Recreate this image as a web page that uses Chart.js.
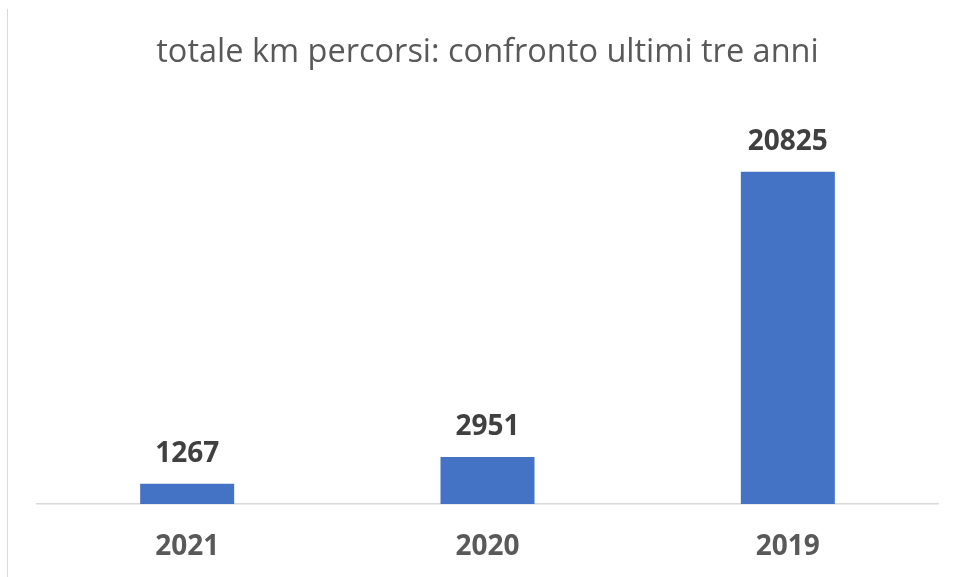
<!DOCTYPE html>
<html>
<head>
<meta charset="utf-8">
<script src="https://cdn.jsdelivr.net/npm/chart.js@4/dist/chart.umd.min.js"></script>
<style>
  html, body { margin: 0; padding: 0; background: #ffffff; }
  #wrap { position: relative; width: 955px; height: 577px; overflow: hidden; }
  #frame { position: absolute; left: 7px; top: 9px; width: 0; height: 580px; border-left: 1.5px solid #d9d9d9; }
  canvas { position: absolute; left: 0; top: 0; }
</style>
</head>
<body>
<div id="wrap">
  <div id="frame"></div>
  <canvas id="c" width="955" height="577"></canvas>
</div>
<script>
const titleText = "totale km percorsi: confronto ultimi tre anni";
const categories = ["2021", "2020", "2019"];
const kmValues = [1267, 2951, 20825];

const valueLabels = {
  id: 'valueLabels',
  afterDatasetsDraw(chart) {
    const ctx = chart.ctx;
    const meta = chart.getDatasetMeta(0);
    ctx.save();
    ctx.font = 'bold 28px "Open Sans"';
    ctx.fillStyle = '#404040';
    ctx.textAlign = 'center';
    ctx.textBaseline = 'middle';
    meta.data.forEach((bar, i) => {
      ctx.fillText(String(kmValues[i]), bar.x, bar.y - 30);
    });
    ctx.restore();
  }
};

new Chart(document.getElementById('c'), {
  type: 'bar',
  data: {
    labels: categories,
    datasets: [{
      data: kmValues,
      backgroundColor: '#4472c4',
      borderWidth: 0,
      barPercentage: 0.313,
      categoryPercentage: 1.0
    }]
  },
  options: {
    responsive: false,
    animation: false,
    devicePixelRatio: 1,
    layout: { padding: { left: 37, right: 17, top: 0, bottom: -13 } },
    plugins: {
      legend: { display: false },
      tooltip: { enabled: false },
      title: {
        display: true,
        text: titleText,
        color: '#595959',
        font: { family: '"Open Sans"', size: 32.5, weight: 'normal', lineHeight: 1.2 },
        padding: { top: 33.5, bottom: 32.5 }
      }
    },
    scales: {
      x: {
        grid: { display: false, drawTicks: false },
        border: { display: true, color: '#d9d9d9', width: 1.5 },
        ticks: {
          color: '#595959',
          padding: 26.2,
          font: { family: '"Open Sans"', size: 28, weight: 'bold', lineHeight: 1.2 }
        }
      },
      y: {
        display: false,
        min: 0,
        max: 25000
      }
    }
  },
  plugins: [valueLabels]
});
</script>
</body>
</html>
